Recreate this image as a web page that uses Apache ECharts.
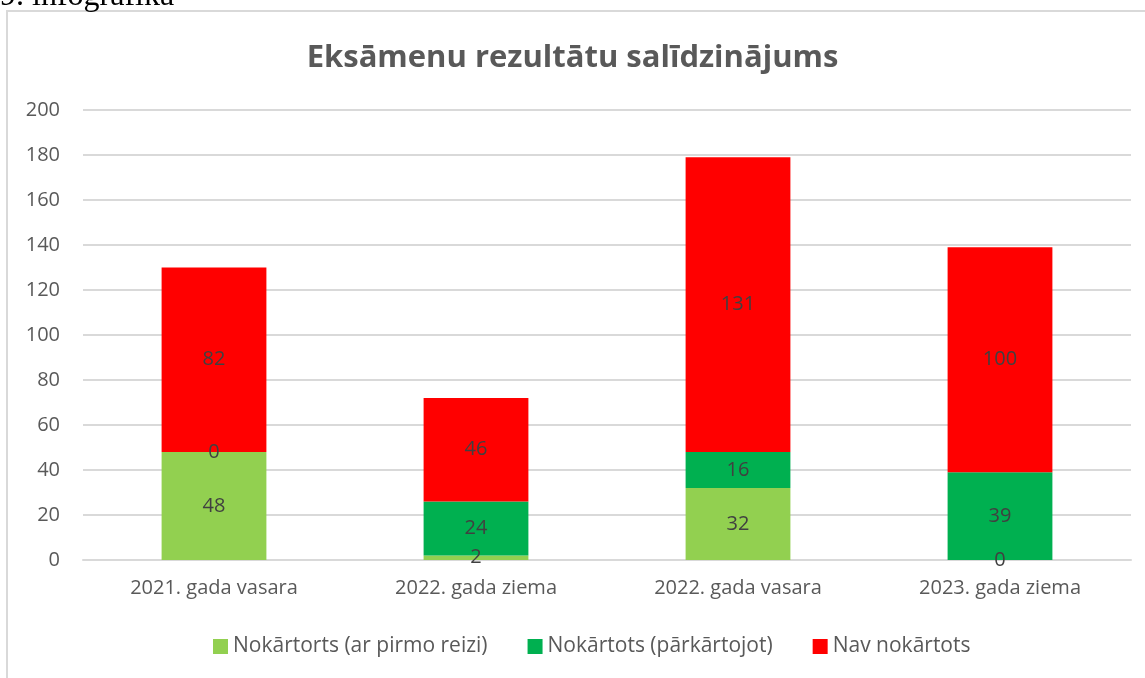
<!DOCTYPE html>
<html>
<head>
<meta charset="utf-8">
<script src="https://cdn.jsdelivr.net/npm/echarts@6/dist/echarts.min.js"></script>
<style>
  html, body { margin: 0; padding: 0; background: #fff; }
  #box { width: 1145px; height: 678px; }
</style>
</head>
<body>
<div id="box"></div>
<script>
// dati no infografikas
const categories = ['2021. gada vasara', '2022. gada ziema', '2022. gada vasara', '2023. gada ziema']
const seriesNames = ['Nokārtorts (ar pirmo reizi)', 'Nokārtots (pārkārtojot)', 'Nav nokārtots']
const pirmoReizi = [48, 2, 32, 0]
const parkartojot = [0, 24, 16, 39]
const navNokartots = [82, 46, 131, 100]
const colors = ['#92D050', '#00B050', '#FF0000']

const font = 'Open Sans'
const textGray = '#595959'

function barSeries (name, data, color) {
  return {
    name: name,
    type: 'bar',
    stack: 'kopa',
    barWidth: '40%',
    data: data,
    itemStyle: { color: color },
    label: {
      show: true,
      position: 'inside',
      color: '#404040',
      fontFamily: font,
      fontSize: 20
    }
  }
}

const myChart = echarts.init(document.getElementById('box'))
const options = {
  animation: false,
  title: {
    text: 'Eksāmenu rezultātu salīdzinājums',
    left: 'center',
    top: 38,
    textStyle: { fontFamily: font, fontSize: 31, fontWeight: 'bold', color: textGray }
  },
  legend: {
    bottom: 16,
    left: 208,
    icon: 'rect',
    itemWidth: 15,
    itemHeight: 15,
    itemGap: 40,
    textStyle: { fontFamily: font, fontSize: 21, color: textGray }
  },
  grid: { left: 83, right: 14, top: 110, bottom: 118 },
  xAxis: {
    type: 'category',
    data: categories,
    axisTick: { show: false },
    axisLine: { lineStyle: { color: '#d9d9d9', width: 2 } },
    axisLabel: { fontFamily: font, fontSize: 20, color: textGray, margin: 18 }
  },
  yAxis: {
    type: 'value',
    min: 0,
    max: 200,
    interval: 20,
    axisLabel: { fontFamily: font, fontSize: 20, color: textGray, margin: 23 },
    splitLine: { lineStyle: { color: '#d9d9d9', width: 2 } }
  },
  graphic: [
    {
      type: 'rect',
      shape: { x: 7, y: 11, width: 1160, height: 700 },
      style: { fill: 'none', stroke: '#d9d9d9', lineWidth: 2 },
      z: -1
    },
    {
      type: 'text',
      left: 0,
      top: -19,
      style: { text: '9. infografika', fontFamily: 'Liberation Serif', fontSize: 32, fill: '#000' }
    }
  ],
  series: [
    barSeries(seriesNames[0], pirmoReizi, colors[0]),
    barSeries(seriesNames[1], parkartojot, colors[1]),
    barSeries(seriesNames[2], navNokartots, colors[2])
  ]
}
myChart.setOption(options)
</script>
</body>
</html>
